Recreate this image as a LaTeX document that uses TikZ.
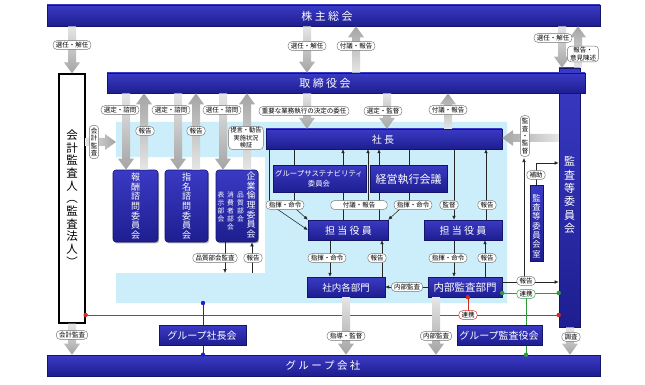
\documentclass[tikz,border=0pt]{standalone}
\usepackage{fontspec}
\newfontfamily\jp{Noto Sans CJK JP}
\usetikzlibrary{arrows.meta,calc,shadows}
\definecolor{bartop}{HTML}{3A3AC4}
\definecolor{barbot}{HTML}{1E1E90}
\definecolor{bardark}{HTML}{14146A}
\definecolor{lblue}{HTML}{CBEEFA}
\definecolor{arrL}{HTML}{E6E6E6}
\definecolor{arrD}{HTML}{A4A4A4}
\definecolor{lgreen}{HTML}{2E9A3A}
\definecolor{lred}{HTML}{D42A1E}
\definecolor{lineblue}{HTML}{2020D0}

\newcommand\gDown[3]{\shade[top color=arrL,bottom color=arrD] let \p1=(#2),\p2=(#3) in (#1pt-4pt,\y1) -- (#1pt+4pt,\y1) -- (#1pt+4pt,\y2+11pt) -- (#1pt+8pt,\y2+11pt) -- (#1pt,\y2) -- (#1pt-8pt,\y2+11pt) -- (#1pt-4pt,\y2+11pt) -- cycle;}
\newcommand\gUp[3]{\shade[top color=arrD,bottom color=arrL] let \p1=(#2),\p2=(#3) in (#1pt-4pt,\y1) -- (#1pt+4pt,\y1) -- (#1pt+4pt,\y2-11pt) -- (#1pt+8pt,\y2-11pt) -- (#1pt,\y2) -- (#1pt-8pt,\y2-11pt) -- (#1pt-4pt,\y2-11pt) -- cycle;}
\newcommand\gRight[3]{\shade[left color=arrL,right color=arrD] let \p1=(#2),\p2=(#3) in (\x1,-#1pt+4pt) -- (\x2-11pt,-#1pt+4pt) -- (\x2-11pt,-#1pt+8pt) -- (\x2,-#1pt) -- (\x2-11pt,-#1pt-8pt) -- (\x2-11pt,-#1pt-4pt) -- (\x1,-#1pt-4pt) -- cycle;}
\newcommand\gLeft[3]{\shade[left color=arrD,right color=arrL] let \p1=(#2),\p2=(#3) in (\x1,-#1pt+4pt) -- (\x2+11pt,-#1pt+4pt) -- (\x2+11pt,-#1pt+8pt) -- (\x2,-#1pt) -- (\x2+11pt,-#1pt-8pt) -- (\x2+11pt,-#1pt-4pt) -- (\x1,-#1pt-4pt) -- cycle;}

\tikzset{
  bar/.style={top color=bartop, bottom color=barbot, draw=bardark, line width=0.6pt, inner sep=0pt,
    drop shadow={shadow xshift=1.2pt, shadow yshift=-1.4pt, fill=black!45, opacity=0.6}},
  cbox/.style={bar, rounded corners=3pt},
  wt/.style={text=white, inner sep=0pt, font=\jp\fontsize{10}{12}\selectfont},
  wv/.style={text=white, inner sep=0pt, align=center, font=\jp\fontsize{9}{9.6}\selectfont},
  pill/.style={draw=black!55, fill=white, rounded corners=3.5pt, inner xsep=2.6pt, inner ysep=1.3pt,
    line width=0.45pt, align=center, font=\jp\fontsize{6.5}{7.6}\selectfont},
  vpill/.style={pill, inner xsep=1.4pt, inner ysep=2.6pt, font=\jp\fontsize{6.5}{7.4}\selectfont},
  tl/.style={draw=black!85, line width=0.55pt},
  tla/.style={tl, -{Latex[length=4pt,width=3.6pt]}},
  redl/.style={draw=lred, line width=0.7pt},
  greenl/.style={draw=lgreen, line width=0.7pt},
  bluel/.style={draw=lineblue, line width=0.7pt},
}

\begin{document}
\begin{tikzpicture}[x=1pt,y=-1pt]
\useasboundingbox (0,0) rectangle (645,385);
\fill[white] (0,0) rectangle (645,385);

% executive (light blue) area
\fill[lblue] (116,122) -- (507,122) -- (507,303) -- (116,303) -- (116,273) -- (265,273) -- (265,157) -- (116,157) -- cycle;
\coordinate (execL) at (116,142);
\coordinate (execB) at (203,303);
\coordinate (execT) at (225,273);

% main bars
\node[bar, minimum width=21pt, minimum height=259pt] (kansatou) at (569.5,197.5) {};
\node[bar, minimum width=553pt, minimum height=21pt] (kabu) at (323.5,15.5) {};
\node[bar, minimum width=478pt, minimum height=20pt] (tori) at (346,83) {};
\node[draw=black, line width=1.3pt, fill=white, minimum width=26pt, minimum height=249pt, inner sep=0pt] (kaikei) at (72,198.5) {};

% coloured link lines
\draw[redl] (kaikei.east |- 0,315) -- (kansatou.west |- 0,315);
\draw[redl] (468,297) -- (468,315);
\draw[bluel] (execB) -- (203,355);
\draw[greenl] (502,293) -- (kansatou.west |- 0,293);
\draw[greenl] (526,293) -- (526,355);

% lower bars / boxes
\node[bar, minimum width=553pt, minimum height=21pt] (group) at (323.5,365.5) {};
\node[bar, minimum width=87pt, minimum height=20pt] (gshacho) at (202.5,335) {};
\node[bar, minimum width=85pt, minimum height=20pt] (gkansa) at (499.5,335) {};

% committees
\node[cbox, minimum width=45pt, minimum height=72pt] (houshu) at (135.5,206) {};
\node[cbox, minimum width=43pt, minimum height=72pt] (shimei) at (186.5,206) {};
\node[cbox, minimum width=42pt, minimum height=72pt] (rinri) at (237,206) {};

% executive boxes: coordinates first, connectors behind the boxes
\coordinate (shachoS) at (384,149);
\coordinate (cL) at (285,201);
\coordinate (cM) at (359,201);
\coordinate (cR) at (409,201);
\node[minimum width=236pt, minimum height=20pt, inner sep=0pt] (shacho) at (384,139) {};
\node[minimum width=80pt, minimum height=20pt, inner sep=0pt] (tanL) at (348,230) {};
\node[minimum width=78pt, minimum height=20pt, inner sep=0pt] (tanR) at (463,230) {};
\node[minimum width=78pt, minimum height=20pt, inner sep=0pt] (bumon) at (346,287) {};
\node[minimum width=74pt, minimum height=20pt, inner sep=0pt] (naibu) at (465,287) {};

\draw[tl] (269,0 |- shacho.south) -- (269,0 |- cL);
\draw[tl] (294,0 |- shacho.south) -- (294,0 |- cL);
\draw[tla] (277,209) -- (tanL.west);
\draw[tla] (296,209) -- (tanL.north west);
\draw[tla] (343,0 |- tanL.north) -- (343,0 |- shacho.south);
\draw[tla] (368,0 |- cM) -- (368,0 |- shacho.south);
\draw[tla] (379,0 |- tanL.north) -- (379,0 |- shacho.south);
\draw[tl] (409,0 |- shacho.south) -- (cR);
\draw[tla] (400,209) -- (tanL.north east);
\draw[tla] (454,0 |- shacho.south) -- (454,0 |- tanR.north);
\draw[tla] (486,0 |- tanR.north) -- (486,0 |- shacho.south);
\draw[tla] (330,0 |- tanL.south) -- (330,0 |- bumon.north);
\draw[tla] (382,0 |- bumon.north) -- (382,0 |- tanL.south);
\draw[tla] (454,0 |- tanR.south) -- (454,0 |- naibu.north);
\draw[tla] (485,0 |- naibu.north) -- (485,0 |- tanR.south);
\draw[tla] (naibu.west) -- (bumon.east);

\node[bar, minimum width=236pt, minimum height=20pt] (shachoB) at (shacho) {};
\node[bar, minimum width=93pt, minimum height=27pt] (gsus) at (319.5,178.5) {};
\node[bar, minimum width=77pt, minimum height=27pt] (keiei) at (408.5,178.5) {};
\node[bar, minimum width=80pt, minimum height=20pt] (tanLB) at (tanL) {};
\node[bar, minimum width=78pt, minimum height=20pt] (tanRB) at (tanR) {};
\node[bar, minimum width=78pt, minimum height=20pt] (bumonB) at (bumon) {};
\node[bar, minimum width=74pt, minimum height=20pt] (naibuB) at (naibu) {};
\node[bar, minimum width=13pt, minimum height=76pt] (shitsu) at (536.5,223) {};

% dots
\fill[lred] (kaikei.east |- 0,315) circle (2.2pt);
\fill[lred] (kansatou.west |- 0,315) circle (2.2pt);
\fill[lred] (468,0 |- naibu.south) circle (2.2pt);
\fill[lineblue] (execB) circle (2.2pt);
\fill[lineblue] (203,0 |- group.north) circle (2.2pt);
\fill[lgreen] (naibu.east |- 0,293) circle (2.2pt);
\fill[lgreen] (kansatou.west |- 0,293) circle (2.2pt);
\fill[lgreen] (526,0 |- group.north) circle (2.2pt);

% grey block arrows
\gDown{72}{kabu.south}{kaikei.north}
\gDown{307}{kabu.south}{tori.north}
\gUp{356}{tori.north}{kabu.south}
\gDown{562}{kabu.south}{kansatou.north}
\gUp{578}{kansatou.north}{kabu.south}
\gDown{126}{tori.south}{houshu.north}
\gUp{144}{houshu.north}{tori.south}
\gDown{178}{tori.south}{shimei.north}
\gUp{196}{shimei.north}{tori.south}
\gDown{223}{tori.south}{rinri.north}
\gUp{247}{rinri.north}{tori.south}
\gDown{307}{tori.south}{shacho.north}
\gDown{387}{tori.south}{shacho.north}
\gUp{448}{shacho.north}{tori.south}
\gLeft{138}{kansatou.west}{shacho.east}
\gRight{142}{kaikei.east}{execL}
\gDown{72}{kaikei.south}{group.north}
\gDown{346}{bumon.south}{group.north}
\gDown{436}{naibu.south}{group.north}
\gDown{570}{kansatou.south}{group.north}

% other thin connectors
\draw[tla] (225,0 |- rinri.south) -- (execT);
\draw[tla] (252,273) -- (252,0 |- rinri.south);
\draw[tla] (naibu.east |- 0,282) -- (kansatou.west |- 0,282);
\draw[tla] (524,281) -- (524,158);
\draw[tla] (536,0 |- shitsu.north) -- (536,163) -- (kansatou.west |- 0,163);

% bar texts
\node[wt, font=\jp\fontsize{11}{12}\selectfont] (t-kabu) at (327,16) {株 主 総 会};
\node[wt, font=\jp\fontsize{11}{12}\selectfont] (t-tori) at (325,83.5) {取 締 役 会};
\node[wt, font=\jp\fontsize{10.5}{12}\selectfont] (t-group) at (323,366) {グ ル ー プ 会 社};
\node[wt] (t-gshacho) at (202,335.5) {グループ社長会};
\node[wt] (t-gkansa) at (499,335.5) {グループ監査役会};
\node[wt] (t-shacho) at (383,139.5) {社 長};
\node[wt, font=\jp\fontsize{7.4}{10}\selectfont, align=center] (t-gsus) at (319,179) {グループサステナビリティ\\委員会};
\node[wt, font=\jp\fontsize{11}{12}\selectfont] (t-keiei) at (408.5,179) {経営執行会議};
\node[wt] (t-tanL) at (348.5,230.5) {担 当 役 員};
\node[wt] (t-tanR) at (463,230.5) {担 当 役 員};
\node[wt, font=\jp\fontsize{9.5}{12}\selectfont] (t-bumon) at (346,287.5) {社内各部門};
\node[wt, font=\jp\fontsize{10.5}{12}\selectfont] (t-naibu) at (465,287.5) {内部監査部門};
\node[wv, font=\jp\fontsize{11}{13.3}\selectfont] (t-kansatou) at (569.5,195) {監\\査\\等\\委\\員\\会};
\node[wv, font=\jp\fontsize{8.3}{9.3}\selectfont] (t-shitsu) at (536.5,226) {監\\査\\等\\委\\員\\会\\室};
\node[wv] (t-houshu) at (135.5,206) {報\\酬\\諮\\問\\委\\員\\会};
\node[wv] (t-shimei) at (186.5,206) {指\\名\\諮\\問\\委\\員\\会};
\node[wv] (t-rinri) at (251,205) {企\\業\\倫\\理\\委\\員\\会};
\node[wv, font=\jp\fontsize{6.8}{7.8}\selectfont, anchor=north] (t-hinshitsu) at (240.5,192) {品\\質\\部\\会};
\node[wv, font=\jp\fontsize{6.8}{7.8}\selectfont, anchor=north] (t-shohisha) at (230.5,192) {消\\費\\者\\部\\会};
\node[wv, font=\jp\fontsize{6.8}{7.8}\selectfont, anchor=north] (t-hyoji) at (221,192) {表\\示\\部\\会};
\node[inner sep=0pt, align=center, font=\jp\fontsize{11.5}{12.7}\selectfont] (t-kaikei) at (72,198) {会\\計\\監\\査\\人\\︵\\監\\査\\法\\人\\︶};

% labels
\node[pill] (l1) at (72,45) {選任・解任};
\node[pill] (l2) at (307,46) {選任・解任};
\node[pill] (l3) at (356,46) {付議・報告};
\node[pill] (l4) at (553,38) {選任・解任};
\node[pill, inner ysep=1pt] (l5) at (583,54) {報告・\\意見陳述};
\node[pill] (l6) at (120,110) {選定・諮問};
\node[pill] (l7) at (145,131) {報告};
\node[pill] (l8) at (171,110) {選定・諮問};
\node[pill] (l9) at (196,131) {報告};
\node[pill] (l10) at (222,110) {選任・諮問};
\node[pill, font=\jp\fontsize{6.2}{7.6}\selectfont, inner ysep=1pt, inner xsep=1.8pt] (l11) at (246,138) {提言・勧告\\実施状況\\検証};
\node[pill] (l12) at (304,111) {重要な業務執行の決定の委任};
\node[pill] (l13) at (383,111) {選定・監督};
\node[pill] (l14) at (448,110) {付議・報告};
\node[vpill] (l15) at (525,136) {監\\査\\・\\監\\督};
\node[vpill] (l16) at (94,142) {会\\計\\監\\査};
\node[pill] (l17) at (536,175) {補助};
\node[pill] (l18) at (285,205) {指揮・命令};
\node[pill, inner xsep=12pt] (l19) at (359,205) {付議・報告};
\node[pill] (l20) at (413,205) {指揮・命令};
\node[pill] (l21) at (449,205) {監督};
\node[pill] (l22) at (487,205) {報告};
\node[pill] (l23) at (327,258) {指揮・命令};
\node[pill] (l24) at (377,258) {報告};
\node[pill] (l25) at (448,258) {指揮・命令};
\node[pill] (l26) at (487,258) {報告};
\node[pill] (l27) at (215,258) {品質部会監査};
\node[pill] (l28) at (253,258) {報告};
\node[pill] (l29) at (407,287) {内部監査};
\node[pill] (l30) at (526,281) {報告};
\node[pill, draw=lgreen] (l31) at (526,294) {連携};
\node[pill, draw=lred] (l32) at (468,315) {連携};
\node[pill] (l33) at (72,335) {会計監査};
\node[pill] (l34) at (346,336) {指導・監督};
\node[pill] (l35) at (436,336) {内部監査};
\node[pill] (l36) at (571,337) {調査};
\end{tikzpicture}
\end{document}
